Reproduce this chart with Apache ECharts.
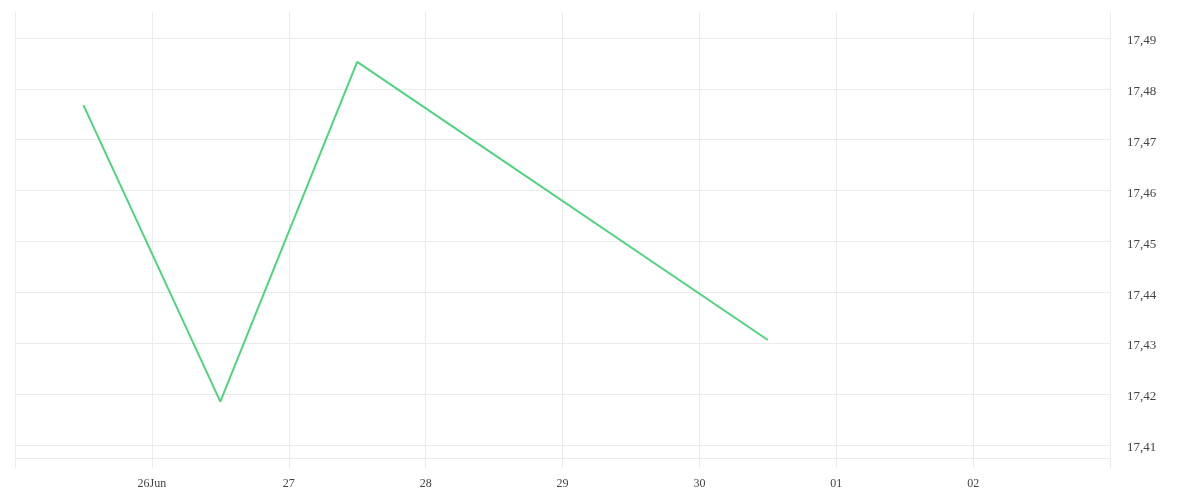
<!DOCTYPE html>
<html><head><meta charset="utf-8">
<script src="https://cdn.jsdelivr.net/npm/echarts@6/dist/echarts.min.js"></script>
<style>html,body{margin:0;padding:0;background:#fff}#c{width:1200px;height:500px}</style>
</head><body><div id="c"></div>
<script>
var dates = ['2025-06-25T12:00:00', '2025-06-26T12:00:00', '2025-06-27T12:00:00', '2025-06-30T12:00:00'];
var values = [17.4768, 17.4185, 17.4853, 17.4306];
var xMin = '2025-06-25T00:00:00';
var xMax = '2025-07-03T00:00:00';
var yMin = 17.4074;
var yMax = 17.4951;
var yTicks = [17.41, 17.42, 17.43, 17.44, 17.45, 17.46, 17.47, 17.48, 17.49];

var font = 'Liberation Serif';
var xMinT = new Date(xMin).getTime(), xMaxT = new Date(xMax).getTime();
var chart = echarts.init(document.getElementById('c'), null, {renderer: 'canvas'});
chart.setOption({
  animation: false,
  grid: {left: 15, right: 90, top: 12, bottom: 42, containLabel: false},
  xAxis: {
    type: 'time',
    min: xMinT,
    max: xMaxT,
    interval: 86400000,
    axisLine: {show: true, lineStyle: {color: '#ebebeb', width: 1}},
    axisTick: {show: true, length: 10, lineStyle: {color: '#ebebeb', width: 1}},
    splitLine: {show: true, lineStyle: {color: '#ebebeb', width: 1}},
    axisLabel: {
      show: true,
      color: '#444', fontFamily: font, fontSize: 12, margin: 20,
      formatter: function (v) {
        if (v <= xMinT || v >= xMaxT) return '';
        var d = new Date(v);
        var day = ('0' + d.getDate()).slice(-2);
        if (d.getDate() === 26 && d.getMonth() === 5) return day + 'Jun';
        return day;
      }
    }
  },
  yAxis: {
    type: 'value',
    position: 'right',
    min: yMin, max: yMax,
    axisLine: {show: true, lineStyle: {color: '#ebebeb'}},
    axisTick: {show: false},
    splitLine: {show: false},
    axisLabel: {show: false}
  },
  series: [{
    type: 'line',
    data: dates.map(function (d, i) { return [new Date(d).getTime(), values[i]]; }),
    showSymbol: false,
    lineStyle: {color: '#4fd37f', width: 2},
    itemStyle: {color: '#4fd37f'},
    markLine: {
      silent: true, symbol: 'none', animation: false,
      lineStyle: {color: '#ebebeb', type: 'solid', width: 1},
      label: {show: true, position: 'end', distance: 17, color: '#444', fontFamily: font, fontSize: 13,
        offset: [0, 3],
        formatter: function (p) { return p.value.toFixed(2).replace('.', ','); }},
      data: yTicks.map(function (t) { return {yAxis: t}; })
    },
    z: 5
  }]
});
</script></body></html>
